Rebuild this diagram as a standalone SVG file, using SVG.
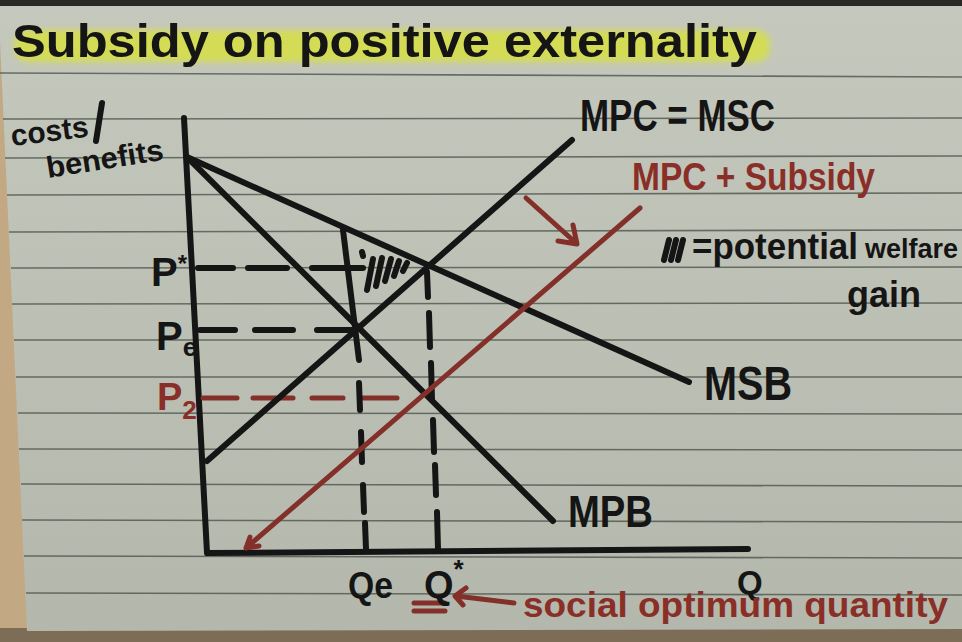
<svg xmlns="http://www.w3.org/2000/svg" width="962" height="642" viewBox="0 0 962 642">
<defs>
<linearGradient id="cardGrad" x1="0" y1="0" x2="0" y2="1">
<stop offset="0" stop-color="#c5c8bd"/>
<stop offset="1" stop-color="#b4b8ac"/>
</linearGradient>
<filter id="soft" x="-5%" y="-50%" width="110%" height="200%"><feGaussianBlur stdDeviation="3"/></filter>
<style>
.ink{stroke:#151515;stroke-width:6;stroke-linecap:round;stroke-linejoin:round;fill:none}
.red{stroke:#83302a;stroke-width:5;stroke-linecap:round;stroke-linejoin:round;fill:none}
.rule{stroke:#4f554e;stroke-width:1.6;opacity:.8}
.t{font-family:"Liberation Sans","DejaVu Sans",sans-serif;font-weight:bold;fill:#151515}
.tr{font-family:"Liberation Sans","DejaVu Sans",sans-serif;font-weight:bold;fill:#8a2f27}
</style>
</defs>

<g id="background">
<rect x="0" y="0" width="962" height="642" fill="#c2a883"/>
<rect x="0" y="628" width="962" height="14" fill="#7d6d57"/>
<polygon points="0,6 962,6 962,629 27,631 0,40" fill="url(#cardGrad)"/>
<rect x="0" y="0" width="962" height="6" fill="#2a2926"/>
<g id="rules">
<line class="rule" x1="0" y1="73" x2="962" y2="77"/>
<line class="rule" x1="3" y1="119" x2="962" y2="118"/>
<line class="rule" x1="5" y1="158" x2="962" y2="156"/>
<line class="rule" x1="7" y1="195" x2="962" y2="193"/>
<line class="rule" x1="9" y1="232" x2="962" y2="230"/>
<line class="rule" x1="11" y1="268" x2="962" y2="267"/>
<line class="rule" x1="12" y1="304" x2="962" y2="303"/>
<line class="rule" x1="14" y1="340" x2="962" y2="340"/>
<line class="rule" x1="16" y1="377" x2="962" y2="377"/>
<line class="rule" x1="18" y1="413" x2="962" y2="414"/>
<line class="rule" x1="19" y1="449" x2="962" y2="450"/>
<line class="rule" x1="21" y1="484" x2="962" y2="486"/>
<line class="rule" x1="22" y1="520" x2="962" y2="522"/>
<line class="rule" x1="24" y1="556" x2="962" y2="558"/>
<line class="rule" x1="26" y1="593" x2="962" y2="595"/>
</g>
</g>

<g id="title">
<rect x="14" y="30" width="756" height="32" rx="14" fill="#d6df4c" opacity="0.9" filter="url(#soft)"/>
<text class="t" x="12" y="57" font-size="46" textLength="745" lengthAdjust="spacingAndGlyphs">Subsidy on positive externality</text>
</g>

<g id="axes">
<path class="ink" d="M184 118 L207 553 L748 549"/>
</g>

<g id="connectors">
<g id="guides">
<path class="ink" d="M198 268 H233 M248 268 H287 M312 268 H363"/>
<path class="ink" d="M200 330 H235 M255 330 H293 M317 330 H356"/>
<path class="red" d="M203 398 H237 M253 398 H293 M312 398 H343 M363 398 H397"/>
<path class="ink" d="M343 230 L359 360 M359 383 L360 410 M361 432 L362 462 M363 485 L364 512 M365 523 L366 549"/>
<path class="ink" d="M427 272 L428 297 M429 313 L430 347 M431 363 L432 400 M433 420 L434 452 M435 465 L436 495 M437 512 L438 549"/>
</g>
<g id="hatch">
<path class="ink" stroke-width="3.5" d="M362 252 L363 256 M367 290 L373 259 M376 286 L382 258 M385 281 L391 259 M394 276 L399 261 M403 271 L407 263"/>
</g>
<g id="curve-msb"><path class="ink" d="M187 157 L689 382"/></g>
<g id="curve-mpb"><path class="ink" d="M187 157 L553 521"/></g>
<g id="curve-mpc"><path class="ink" d="M207 461 L572 140"/></g>
<g id="curve-subsidy"><path class="red" d="M246 548 L640 208 M246 548 L259 546 M246 548 L250 537"/></g>
<g id="shift-arrow"><path class="red" stroke-width="6" d="M526 198 L576 243 M558 241 L577 244 L573 225"/></g>
<g id="q-arrow"><path class="red" stroke-width="5" d="M514 603 L456 596 M466 588 L455 596 L463 605"/></g>
<path class="red" stroke-width="4" d="M414 603 L445 603 M414 611 L445 611"/>
</g>

<g id="label-axis-y">
<text class="t" font-size="30" transform="translate(12 146) rotate(-7)" textLength="78" lengthAdjust="spacingAndGlyphs">costs</text>
<path class="ink" stroke-width="5" d="M102 103 L96 141"/>
<text class="t" font-size="30" transform="translate(48 178) rotate(-9)" textLength="118" lengthAdjust="spacingAndGlyphs">benefits</text>
</g>
<g id="label-prices">
<text class="t" x="151" y="286" font-size="40">P<tspan font-size="24" dy="-14">*</tspan></text>
<text class="t" x="156" y="350" font-size="40">P<tspan font-size="26" dy="6">e</tspan></text>
<text class="tr" x="157" y="410" font-size="38">P<tspan font-size="26" dy="9">2</tspan></text>
</g>
<g id="label-quantities">
<text class="t" x="348" y="598" font-size="36" textLength="45" lengthAdjust="spacingAndGlyphs">Qe</text>
<text class="t" x="424" y="598" font-size="38">Q<tspan font-size="26" dy="-20">*</tspan></text>
<text class="t" x="737" y="594" font-size="33">Q</text>
<text class="tr" x="523" y="617" font-size="35" textLength="425" lengthAdjust="spacingAndGlyphs">social optimum quantity</text>
</g>
<g id="label-curves">
<text class="t" x="580" y="131" font-size="44" textLength="195" lengthAdjust="spacingAndGlyphs">MPC = MSC</text>
<text class="tr" x="632" y="190" font-size="38" textLength="243" lengthAdjust="spacingAndGlyphs">MPC + Subsidy</text>
<text class="t" x="704" y="400" font-size="48" textLength="88" lengthAdjust="spacingAndGlyphs">MSB</text>
<text class="t" x="568" y="527" font-size="44" textLength="85" lengthAdjust="spacingAndGlyphs">MPB</text>
</g>
<g id="legend">
<path class="ink" stroke-width="4" d="M664 260 L669 240 M671 260 L676 240 M678 260 L683 240"/>
<text class="t" x="692" y="259" font-size="36" textLength="166" lengthAdjust="spacingAndGlyphs">=potential</text>
<text class="t" x="865" y="258" font-size="27">welfare</text>
<text class="t" x="847" y="307" font-size="36">gain</text>
</g>
</svg>
